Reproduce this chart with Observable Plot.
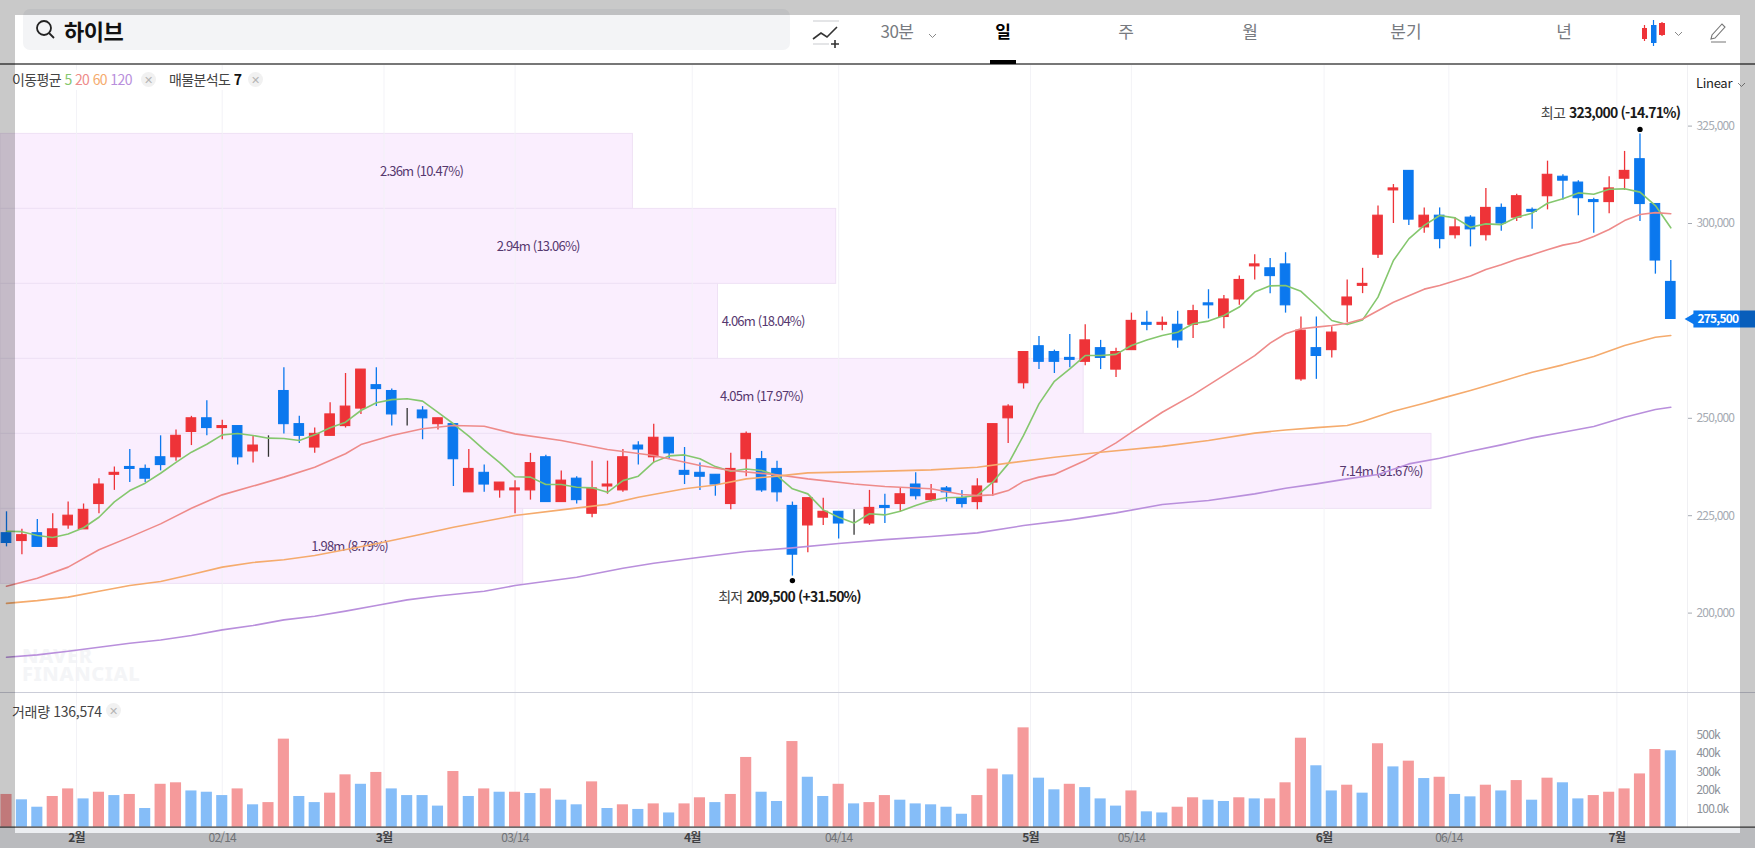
<!DOCTYPE html>
<html lang="ko">
<head>
<meta charset="utf-8">
<title>하이브</title>
<script src="https://cdn.jsdelivr.net/npm/d3@7"></script>
<script src="https://cdn.jsdelivr.net/npm/@observablehq/plot@0.6"></script>
<style>
html,body{margin:0;padding:0;background:#fff;}
#page{position:relative;width:1755px;height:848px;overflow:hidden;background:#fff;font-family:"Noto Sans CJK KR","Noto Sans",sans-serif;color:#333;}
#page > svg{position:absolute;left:0;background:transparent;font-family:"Noto Sans CJK KR","Noto Sans",sans-serif;}
.abs{position:absolute;white-space:nowrap;line-height:1;}
.band{position:absolute;background:rgba(0,0,0,.21);pointer-events:none;}
.tab{position:absolute;top:21px;transform:translateX(-50%);font-size:17px;line-height:20px;color:#777a80;white-space:nowrap;}
.x{position:absolute;width:15px;height:15px;border-radius:50%;background:#f1f1f1;color:#b5b5b5;font-size:11px;line-height:15px;text-align:center;}
#page > svg text{letter-spacing:-.8px;}
#page > svg g[aria-label="boxlabel"] text{letter-spacing:-1.55px;}
#page > svg g[aria-label="boldnote"] text{letter-spacing:-.9px;}
</style>
</head>
<body>
<div id="page">
  <div class="abs" id="wm" style="left:22px;top:647px;font:800 20px/18px 'Noto Sans','DejaVu Sans',sans-serif;color:#f4f5f7;letter-spacing:.6px;white-space:pre-line;">NAVER
FINANCIAL</div>
  <div class="abs" style="left:0;top:828px;width:1755px;height:20px;background:#eceef1;"></div>
</div>
<script>
// ---- values ----
const opens = [220500,218500,220500,217000,222500,221500,228000,235500,237500,237000,240000,240000,246500,250000,247500,248000,241500,244500,257000,248500,242500,245500,248000,252500,258500,257000,250500,252000,248500,248500,231000,236000,231500,231500,231500,240000,228500,234500,225500,232500,231500,243000,240000,245000,236500,236000,235500,228000,239500,239500,237000,227500,222500,224500,226000,223000,223000,227500,228000,233000,229000,232000,229500,228500,233500,250000,259000,268500,267000,265500,264500,268000,262500,267500,274500,274000,274000,274000,279500,276000,280500,289000,288500,289500,260000,268000,267500,279000,284000,292000,308500,313500,299000,302000,297000,301500,297000,304000,301500,303500,307000,312000,310500,306000,305500,311500,316500,305000,285000];
const closes = [218000,220000,217000,221500,225000,226500,233000,236000,237000,234500,238000,245500,250000,247500,248000,240000,243000,244500,248500,245500,246000,251000,253000,262500,257500,251000,250500,250000,250000,239500,237000,233000,233500,232000,238500,228500,234000,229000,232000,233000,240000,242000,245000,241000,235500,235000,233000,237000,246000,231500,231000,215000,229500,226000,223000,223000,227000,227000,230500,230000,230500,231000,228000,232500,248500,253000,267000,264500,264500,265000,270000,265500,267000,275000,274000,274500,270000,277500,279000,280500,285500,289500,286500,279000,272500,266000,272000,281000,284500,302000,309000,301000,302000,296000,299000,298500,304000,300000,307000,303000,312500,311000,306500,305500,309000,313500,305000,290500,275500];
const highs = [226000,221500,224000,225500,228500,228000,234500,237500,242000,238000,245500,247000,250500,254500,249500,248000,245500,245500,263000,250500,247500,254000,261500,262500,263000,257500,252500,253000,250000,248500,242000,238000,233500,234000,241000,240500,236500,235000,239000,239000,242000,244000,248500,245000,242500,238500,235500,241000,246500,241500,239000,228500,229500,229500,226000,226500,231500,230500,232000,236000,233000,232500,231500,234500,248500,253500,267000,271000,267500,271500,274000,270000,268000,277000,277500,276000,277500,279000,283000,281500,286500,292000,291000,292500,276000,276000,273500,285500,288500,304500,310000,313500,304000,304000,301500,302000,309000,305000,307500,304000,316000,312500,311000,306500,312000,318500,323000,305000,290500];
const lows = [217000,215000,217000,217000,221500,221500,225500,231500,233500,233500,236500,239000,243000,245500,244500,238000,238500,240000,246000,243500,241000,245500,247500,251000,253000,248000,248000,244500,247000,232500,231000,231000,229500,225500,229000,228500,228500,228000,224500,230500,231000,238000,238500,239500,233000,231500,230000,226500,235000,231000,228500,209500,215500,222500,219000,220000,222500,223000,226000,229000,228500,228500,227000,226500,230000,243500,257500,262500,261500,263000,263500,262500,260500,267500,272500,272500,268000,270500,275500,273000,279000,285500,282000,277000,259500,260000,265500,274500,282000,291000,300000,299500,297500,293500,296000,294000,295500,298000,300500,298500,303500,306000,302000,297500,302500,308500,300500,287000,275500];
const volumes = [177,148,108,166,207,153,189,171,177,101,232,240,196,189,171,207,121,133,476,166,133,184,283,232,296,207,171,171,114,301,166,207,189,189,182,207,146,121,245,101,121,96,126,77,126,159,133,177,377,189,139,463,270,166,232,126,133,171,146,126,121,108,70,171,314,283,537,265,202,232,214,153,114,196,83,77,108,159,146,139,159,153,153,240,481,332,196,227,184,451,326,357,263,270,177,164,227,196,252,146,265,240,153,171,189,207,288,420,413];
const volumeSide = "RBBRRBRBRB"+"RRBBBRBRRB"+"BRRBRBBBBR"+"BRBRBRBBRB"+"RBRBRRBRRB"+"BRBBRBRRBB"+"BBBRRBRBBR"+"BBBRBBRRBB"+"RBRRRBBRBR"+"BRBRBBRBRB"+"RBBRRRRRB";
const ma5 = [221000,220900,219900,219400,220300,221900,224600,228550,231450,233350,235900,238700,241300,243350,245750,246100,245600,244900,244800,244300,245750,247550,249000,252000,254000,254800,255000,254400,251500,248600,245400,241900,238600,235000,234900,233000,233000,232300,232150,231000,234000,235150,238750,240350,240600,239600,237600,236400,237000,236600,235300,231900,230600,226500,224600,223100,225500,225200,226150,227600,228900,229600,229750,230200,233600,238300,245600,253700,259500,262700,266100,266100,266400,268700,270100,271250,272100,274250,274950,276400,278550,282400,284000,284100,282600,278950,275100,274050,275250,281100,290500,296050,299500,302050,301450,299050,299900,299700,301600,302650,305200,306350,307850,307500,308800,308900,308050,304600,298900];
const ma20Days = [0,2,4,6,8,10,12,14,16,18,20,22,23,25,27,29,31,33,36,39,42,45,47,50,52,55,57,60,62,63,64,65,66,67,68,70,72,73,75,77,79,81,82,83,84,85,86,87,88,90,92,93,95,96,97,98,99,100,101,102,103,104,105,106,107,108];
const ma20 = [206900,208950,211800,216250,219500,222900,226900,230350,232600,234900,237450,240900,243250,245600,247300,248150,247950,246000,244300,242000,240450,237900,236600,235500,234450,233150,232500,231900,230450,230150,230350,231450,233800,234900,235600,239150,243700,246400,251550,256000,261000,266100,269300,271700,273000,273400,273800,274400,275500,279800,283150,284100,286500,288200,289400,290850,291950,293250,294450,295200,296650,298450,300750,302300,302800,302500];
const ma60Days = [0,2,4,6,8,10,12,14,16,18,20,24,27,29,33,36,39,41,44,46,48,50,52,55,57,60,63,65,68,71,75,78,81,83,85,87,88,90,92,93,95,97,99,101,103,105,107,108];
const ma60 = [202500,203200,204100,205600,207100,208100,209900,211800,213000,213700,214800,217800,220300,222050,225050,226500,227900,229750,231900,232900,234450,235150,236000,236250,236450,236750,237450,238500,240000,241300,242800,244300,246200,247000,247600,248150,249170,251820,253880,254990,257130,259440,261840,263720,265860,268680,270820,271250];
const ma120Days = [0,2,4,6,8,10,12,14,16,18,20,22,24,26,28,31,33,37,40,42,45,48,51,54,57,60,63,66,69,72,75,78,81,83,85,87,89,91,93,95,97,99,101,103,105,107,108];
const ma120 = [188680,189280,190200,191250,192270,193100,194240,195700,196800,198260,199200,200500,201940,203400,204400,205600,207070,209210,211520,212800,214350,215800,216740,217850,218850,219650,220590,222470,223930,225720,227860,228890,230600,232060,233170,234450,235570,238300,239760,241560,243180,244980,246430,247890,250280,252250,252850];
const profileLow  = [303750,284500,265250,246000,226750,207500];
const profileHigh = [323000,303750,284500,265250,246000,226750];
const profileEnd  = [40.65,53.84,46.17,69.9,92.47,33.53];
const profileLabelAt = [26.93,34.5,49.1,49,89.2,22.26];
const profileLabels = ["2.36m (10.47%)","2.94m (13.06%)","4.06m (18.04%)","4.05m (17.97%)","7.14m (31.67%)","1.98m (8.79%)"];
const priceTicks = [200000,225000,250000,300000,325000];
const volumeTicks = [100000,200000,300000,400000,500000];
const volumeTickLabels = ["100.0k","200k","300k","400k","500k"];
const monthTicks = [4.54,24.5,44.5,66.45,85.5,104.5];
const monthLabels = ["2월","3월","4월","5월","6월","7월"];
const midTicks = [14,33,54,73,93.6];
const midLabels = ["02/14","03/14","04/14","05/14","06/14"];
const highNote = {day:106,price:323000,head:"최고",text:"323,000 (-14.71%)"};
const lowNote  = {day:51,price:209500,head:"최저",text:"209,500 (+31.50%)"};
const lastPrice = 275500;
const leftEdge = -0.39, rightEdge = 113.5, tagStart = 109.5, tagText = 109.73;

// ---- colours ----
const RED="#ee3338",BLUE="#0b78ee",DARK="#333",
      C5="#85c76e",C20="#ee8b8a",C60="#f5ab6d",C120="#b98fdc",
      VRED="#f59a9b",VBLUE="#85bdf8",GRID="#f2f2f6";

const days = d3.range(opens.length);
const candleColor = i => closes[i]>opens[i]?RED:closes[i]<opens[i]?BLUE:DARK;
const xOpts = {domain:[0,108],range:[6,1670.3],axis:null};
const allTicks = [...monthTicks,...midTicks];
const priceFmt = d3.format(",");
const zip = (a,b)=>a.map((d,i)=>({x:d,y:b[i]}));

const price = Plot.plot({
  width:1755,height:692,marginLeft:0,marginRight:68,marginTop:64,marginBottom:0,
  x:xOpts,
  y:{domain:[200000,325000],range:[612.6,125.6],axis:null},
  marks:[
    Plot.rect(d3.range(profileLow.length),{x1:leftEdge,x2:i=>profileEnd[i],y1:i=>profileLow[i],y2:i=>profileHigh[i],fill:"#faeefe",stroke:"#efe1f5",strokeWidth:1}),
    Plot.ruleX(allTicks,{stroke:GRID,strokeOpacity:.9}),
    Plot.frame({anchor:"right",stroke:"#f0f0f3"}),
    Plot.text(d3.range(profileLabels.length),{ariaLabel:"boxlabel",x:i=>profileLabelAt[i],y:i=>(profileLow[i]+profileHigh[i])/2,text:i=>profileLabels[i],fill:"#56386f",fontSize:13}),
    Plot.ruleX(days,{x:i=>i,y1:i=>lows[i],y2:i=>highs[i],stroke:candleColor,strokeWidth:1.3}),
    Plot.rect(days,{x1:i=>i-.31,x2:i=>i+.31,y1:i=>opens[i],y2:i=>closes[i],fill:candleColor,stroke:candleColor,strokeWidth:1.1}),
    Plot.line(zip(days,ma5),{x:"x",y:"y",stroke:C5,strokeWidth:1.6}),
    Plot.line(zip(ma20Days,ma20),{x:"x",y:"y",stroke:C20,strokeWidth:1.6}),
    Plot.line(zip(ma60Days,ma60),{x:"x",y:"y",stroke:C60,strokeWidth:1.6}),
    Plot.line(zip(ma120Days,ma120),{x:"x",y:"y",stroke:C120,strokeWidth:1.6}),
    Plot.dot([highNote],{x:"day",y:"price",dy:-4.5,r:2.7,fill:"#000",stroke:"none"}),
    Plot.text([highNote],{ariaLabel:"boldnote",x:"day",y:"price",text:"text",dx:-71,dy:-20,textAnchor:"start",fontSize:14,fontWeight:600,fill:"#1a1a1a"}),
    Plot.text([highNote],{x:"day",y:"price",text:"head",dx:-75,dy:-20,textAnchor:"end",fontSize:14,fill:"#444"}),
    Plot.dot([lowNote],{x:"day",y:"price",dy:4.5,r:2.7,fill:"#000",stroke:"none"}),
    Plot.text([lowNote],{ariaLabel:"boldnote",x:"day",y:"price",text:"text",dx:-46,dy:21.5,textAnchor:"start",fontSize:14,fontWeight:600,fill:"#1a1a1a"}),
    Plot.text([lowNote],{x:"day",y:"price",text:"head",dx:-50,dy:21.5,textAnchor:"end",fontSize:14,fill:"#444"}),
    Plot.axisY({anchor:"right",ticks:priceTicks,tickFormat:priceFmt,tickSize:4,tickPadding:5,fontSize:12,color:"#a6abb3",label:null}),
    Plot.ruleY([lastPrice],{x1:tagStart,x2:rightEdge,stroke:BLUE,strokeWidth:17}),
    Plot.dot([lastPrice],{x:tagStart,y:d=>d,symbol:"triangle",r:6,rotate:-90,fill:BLUE,stroke:"none"}),
    Plot.text([lastPrice],{x:tagText,y:d=>d,text:priceFmt,textAnchor:"start",fontSize:12,fontWeight:700,fill:"#fff"})
  ]
});
price.style.top="0px";

const volume = Plot.plot({
  width:1755,height:156,marginLeft:0,marginRight:68,marginTop:0,marginBottom:21.3,
  x:xOpts,
  y:{domain:[0,500000],range:[134.7,42.2],axis:null},
  marks:[
    Plot.ruleX(allTicks,{stroke:GRID}),
    Plot.frame({anchor:"right",stroke:"#f0f0f3"}),
    Plot.rect(days,{x1:i=>i-.36,x2:i=>i+.36,y1:0,y2:i=>volumes[i]*1000,fill:i=>volumeSide[i]==="R"?VRED:VBLUE}),
    Plot.ruleY([0],{x1:leftEdge,x2:rightEdge,stroke:"#3a3a3a",strokeWidth:1.2}),
    Plot.axisY({anchor:"right",ticks:volumeTicks,tickFormat:d=>volumeTickLabels[volumeTicks.indexOf(d)],tickSize:0,tickPadding:9,fontSize:12,color:"#8d929a",label:null}),
    Plot.axisX({anchor:"bottom",ticks:monthTicks,tickFormat:d=>monthLabels[monthTicks.indexOf(d)],tickSize:0,tickPadding:6,fontSize:12,fontWeight:600,color:"#505256",label:null}),
    Plot.axisX({anchor:"bottom",ticks:midTicks,tickFormat:d=>midLabels[midTicks.indexOf(d)],tickSize:0,tickPadding:6,fontSize:12,color:"#8e9196",label:null})
  ]
});
volume.style.top="692px";

const page = document.getElementById("page");
page.append(price,volume);

// ---- toolbar, legends and the dimming bands around the screenshot ----
const chrome = `
<div class="abs" style="left:23px;top:9px;width:767px;height:41px;background:#f3f4f6;border-radius:7px;"></div>
<svg class="abs" style="left:34px;top:18px" width="24" height="24" viewBox="0 0 24 24" fill="none" stroke="#222" stroke-width="1.8"><circle cx="10" cy="10" r="7"/><path d="M15 15l5 5"/></svg>
<div class="abs" style="left:64px;top:18px;font-size:22px;font-weight:700;color:#111;line-height:24px;letter-spacing:-.5px;">하이브</div>
<div class="abs" style="left:0;top:63px;width:1755px;height:1.5px;background:#777;"></div>
<div class="abs" style="left:990px;top:60px;width:26px;height:4px;background:#000;"></div>
<svg class="abs" style="left:811px;top:19px" width="30" height="32" viewBox="0 0 30 32" fill="none"><path d="M2 2h26M2 25h16" stroke="#dcdde0" stroke-width="1.6"/><path d="M2 20l8-6 6 4 10-10" stroke="#333" stroke-width="1.6"/><path d="M20 25h8M24 21v8" stroke="#333" stroke-width="1.6"/></svg>
<div class="tab" style="left:897px;letter-spacing:-.5px">30분</div>
<svg class="abs" style="left:928px;top:33px" width="9" height="6" viewBox="0 0 9 6" fill="none" stroke="#888"><path d="M1 1l3.5 3.5L8 1"/></svg>
<div class="tab" style="left:1003px;color:#000;font-weight:700">일</div>
<div class="tab" style="left:1126px">주</div>
<div class="tab" style="left:1250px">월</div>
<div class="tab" style="left:1406px">분기</div>
<div class="tab" style="left:1564px">년</div>
<svg class="abs" style="left:1641px;top:19px" width="26" height="28" viewBox="0 0 26 28"><path d="M3.500 6v16M21 3v14" stroke="#ee3338" stroke-width="1.2"/><rect x="1" y="9" width="5" height="11" fill="#ee3338"/><rect x="18" y="4" width="6" height="12" fill="#ee3338"/><path d="M12.500 1v26" stroke="#0b78ee" stroke-width="1.200"/><rect x="10" y="6" width="5.500" height="18" fill="#0b78ee"/></svg>
<svg class="abs" style="left:1674px;top:31px" width="9" height="6" viewBox="0 0 9 6" fill="none" stroke="#888"><path d="M1 1l3.500 3.500L8 1"/></svg>
<svg class="abs" style="left:1709px;top:21px" width="20" height="24" viewBox="0 0 20 24" fill="none" stroke="#777" stroke-width="1.1"><path d="M2 18l1-4L13 3l3 3L6 17zM2 21h15"/></svg>
<div class="abs" style="left:0;top:70px;width:270px;height:20px;background:#fff;"></div>
<div class="abs" style="left:12px;top:72px;font-size:14px;letter-spacing:-.6px;color:#444;">이동평균 <span style="color:${C5}">5</span> <span style="color:${C20}">20</span> <span style="color:${C60}">60</span> <span style="color:${C120}">120</span></div>
<div class="x" style="left:141px;top:72px">✕</div>
<div class="abs" style="left:169px;top:72px;font-size:14px;letter-spacing:-.6px;color:#444;">매물분석도 <b style="color:#111">7</b></div>
<div class="x" style="left:248px;top:72px">✕</div>
<div class="abs" style="left:1696px;top:76px;font-size:13px;color:#222;letter-spacing:-.3px;">Linear</div>
<svg class="abs" style="left:1737px;top:82px" width="9" height="6" viewBox="0 0 9 6" fill="none" stroke="#888"><path d="M1 1l3.500 3.500L8 1"/></svg>
<div class="abs" style="left:0;top:692px;width:1755px;height:1.3px;background:#cbcdd8;"></div>
<div class="abs" style="left:12px;top:704px;font-size:14px;letter-spacing:-.3px;color:#444;">거래량 136,574</div>
<div class="x" style="left:106px;top:703px">✕</div>
<div class="band" style="left:0;top:0;width:1755px;height:15px;"></div>
<div class="band" style="left:0;top:15px;width:15px;height:818px;"></div>
<div class="band" style="left:1740px;top:15px;width:15px;height:818px;"></div>
<div class="band" style="left:0;top:833px;width:1755px;height:15px;"></div>`;
page.insertAdjacentHTML("beforeend",chrome);
</script>
</body>
</html>
